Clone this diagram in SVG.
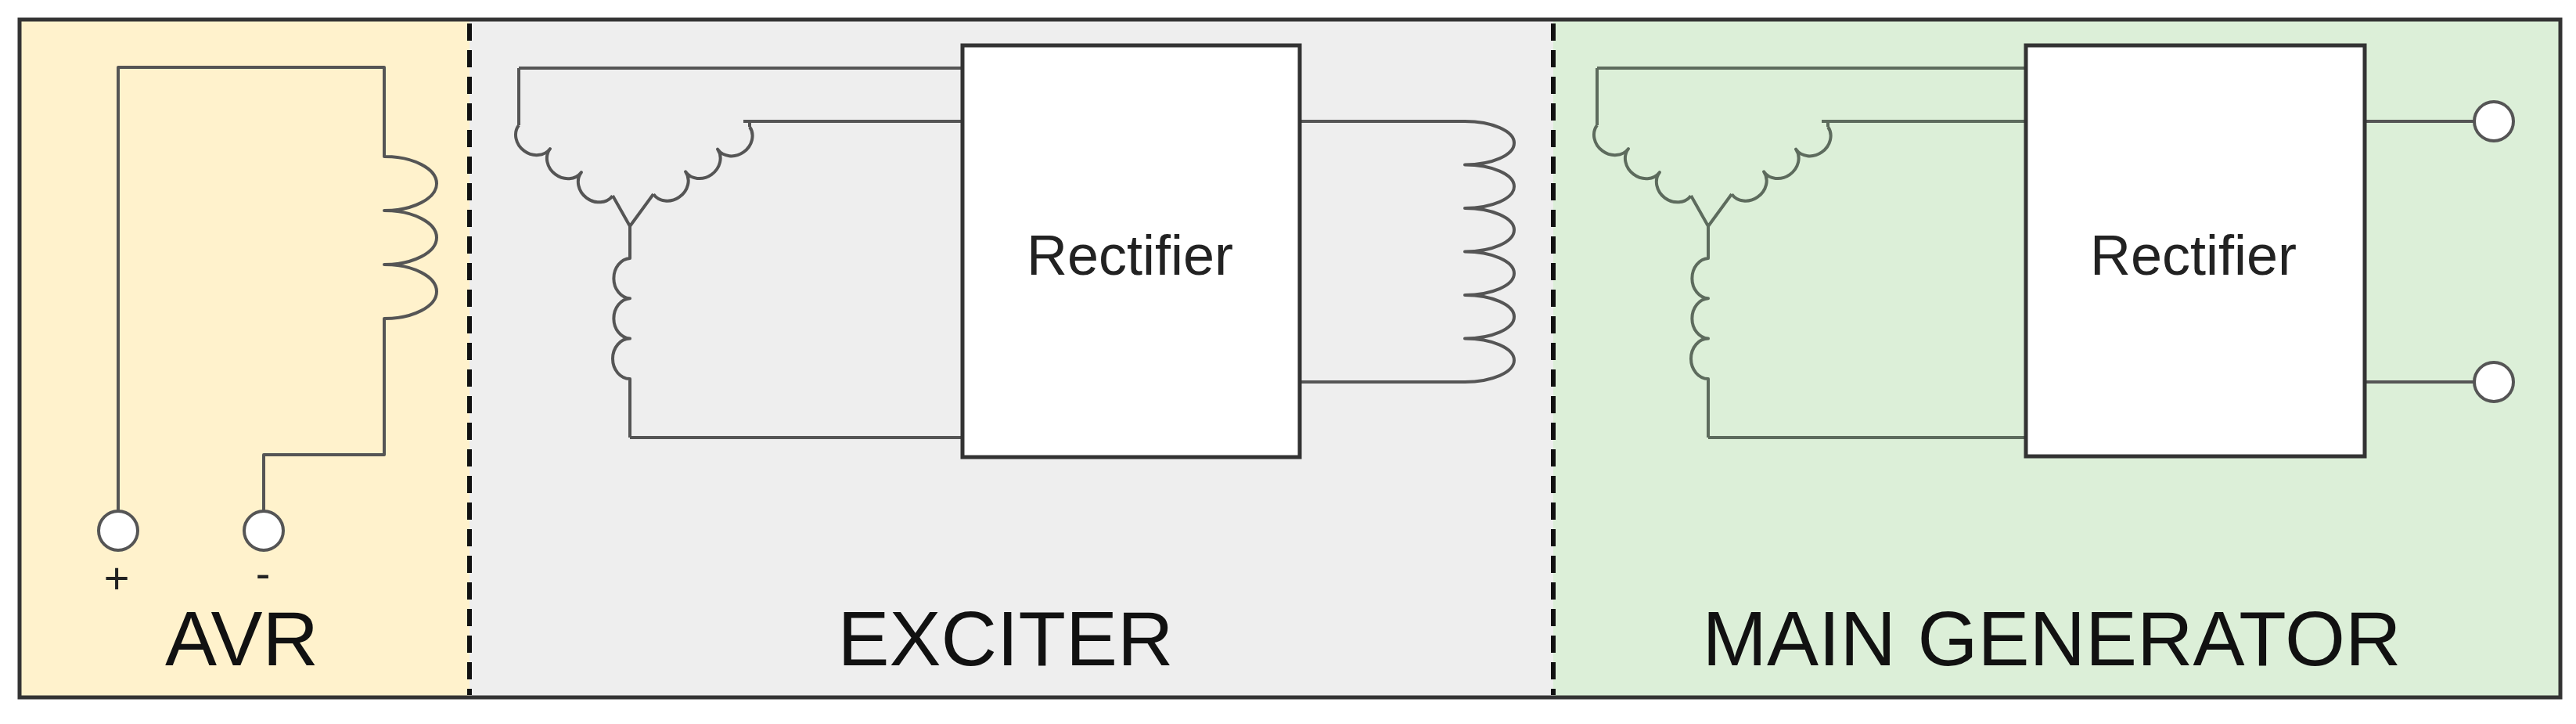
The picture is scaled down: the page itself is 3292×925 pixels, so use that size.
<svg xmlns="http://www.w3.org/2000/svg" width="3292" height="925" viewBox="0 0 3292 925">
<style>
.w{fill:none;stroke:#555;stroke-width:4;stroke-linejoin:round}
.g{fill:none;stroke:#5d6b5d;stroke-width:4;stroke-linejoin:round}
.box{fill:#fff;stroke:#333;stroke-width:5}
.term{fill:#fff;stroke:#555;stroke-width:4}
.lbl{font-family:"Liberation Sans",Arial,sans-serif;font-size:99px;fill:#111;text-anchor:middle}
.rt{font-family:"Liberation Sans",Arial,sans-serif;font-size:72px;fill:#222;text-anchor:middle}
.pm{font-family:"Liberation Sans",Arial,sans-serif;font-size:56px;fill:#222;text-anchor:middle}
.dash{stroke:#111;stroke-width:6;stroke-dasharray:22 12}
</style>
<defs>
<g id="wye">
<path d="M663,87 V160"/>
<g transform="translate(663,160) rotate(37)"><path d="M0,0 a25,22 0 0,0 50,0 a25,22 0 0,0 50,0 a25,22 0 0,0 50,0"/></g>
<path d="M783,250 L805,289 L835,248"/>
<g transform="translate(958,162) rotate(145)"><path d="M0,0 a25,22 0 0,1 50,0 a25,22 0 0,1 50,0 a25,22 0 0,1 50,0"/></g>
<path d="M950,155 H958 V162"/>
<path d="M805,289 V330 a22,25.7 0 0,0 0,51.3 a22,25.7 0 0,0 0,51.3 a22,25.7 0 0,0 0,51.4 V559"/>
</g>
</defs>
<rect x="25" y="25" width="575" height="866" fill="#fff2cc"/>
<rect x="600" y="25" width="1385" height="866" fill="#eeeeee"/>
<rect x="1985" y="25" width="1287" height="866" fill="#dcefd8"/>
<rect x="25" y="25" width="3247" height="866" fill="none" stroke="#333" stroke-width="5"/>
<line class="dash" x1="600" y1="30" x2="600" y2="888"/>
<line class="dash" x1="1985" y1="30" x2="1985" y2="888"/>
<g id="connectors">
<path class="w" d="M151,652 V86 H491 V200 a67,34.5 0 0,1 0,69 a67,34.5 0 0,1 0,69 a67,34.5 0 0,1 0,69 V581 H337 V652"/>
<g class="w"><use href="#wye"/>
<path d="M663,87 H1230 M950,155 H1230 M805,559 H1230"/>
<path d="M1661,155 H1872 a63,27.75 0 0,1 0,55.5 a63,27.75 0 0,1 0,55.5 a63,27.75 0 0,1 0,55.5 a63,27.75 0 0,1 0,55.5 a63,27.75 0 0,1 0,55.5 a63,27.75 0 0,1 0,55.5 H1661"/>
</g>
<g class="g"><use href="#wye" transform="translate(1378,0)"/>
<path d="M2041,87 H2589 M2328,155 H2589 M2183,559 H2589"/>
</g>
<path class="w" d="M3022,155 H3162 M3022,488 H3162"/>
</g>
<g id="avr">
<circle class="term" cx="151" cy="678" r="25"/>
<circle class="term" cx="337" cy="678" r="25"/>
<text class="pm" x="149" y="758">+</text>
<text class="pm" x="336" y="752">-</text>
<text class="lbl" x="309" y="850">AVR</text>
</g>
<g id="exciter">
<rect class="box" x="1230" y="58" width="431" height="526"/>
<text class="rt" x="1444" y="351">Rectifier</text>
<text class="lbl" x="1285" y="850">EXCITER</text>
</g>
<g id="main">
<rect class="box" x="2589" y="58" width="433" height="525"/>
<text class="rt" x="2803" y="351">Rectifier</text>
<circle class="term" cx="3187" cy="155" r="25"/>
<circle class="term" cx="3187" cy="488" r="25"/>
<text class="lbl" x="2622" y="850">MAIN GENERATOR</text>
</g>
</svg>
